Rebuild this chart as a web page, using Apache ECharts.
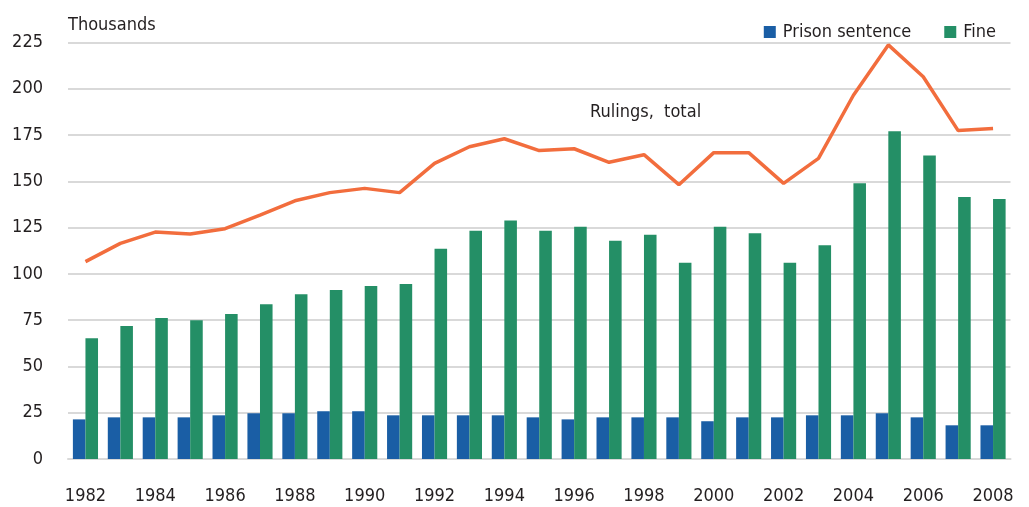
<!DOCTYPE html>
<html>
<head>
<meta charset="utf-8">
<script src="https://cdn.jsdelivr.net/npm/echarts@6/dist/echarts.min.js"></script>
<style>
html,body{margin:0;padding:0;background:#fff;}
#chart{width:1029px;height:507px;}
</style>
</head>
<body>
<div id="chart"></div>
<script>
const years = ['1982','1983','1984','1985','1986','1987','1988','1989','1990','1991','1992','1993','1994','1995','1996','1997','1998','1999','2000','2001','2002','2003','2004','2005','2006','2007','2008'];
const prison = [21.4,22.5,22.5,22.5,23.6,24.7,24.7,25.8,25.8,23.6,23.6,23.6,23.6,22.5,21.4,22.5,22.5,22.5,20.4,22.5,22.5,23.6,23.6,24.7,22.5,18.2,18.2];
const fine = [65.2,71.8,76.2,74.9,78.3,83.6,89,91.3,93.5,94.5,113.6,123.3,128.8,123.3,125.5,117.9,121.2,106,125.5,122,106,115.5,149,177,164,141.5,140.5];
const rulings = [106.6,116.5,122.6,121.5,124.4,131.8,139.5,143.9,146.2,143.9,159.7,168.7,173,166.6,167.6,160.3,164.4,148.2,165.5,165.5,148.9,162.4,196.5,223.7,206.5,177.4,178.5];
const yTicks = {min:0, max:225, interval:25};

const FONT = '"Liberation Sans Narrow", "DejaVu Sans Condensed", sans-serif';
const FS = 18;
const TXT = '#231f20';
const chart = echarts.init(document.getElementById('chart'));
chart.setOption({
  animation:false,
  backgroundColor:'#fff',
  textStyle:{fontFamily:FONT},
  grid:{left:68, right:18.5, top:42.5, bottom:48, containLabel:false},
  legend:{
    data:['Prison sentence','Fine'],
    right:28, top:18, icon:'rect', itemWidth:12, itemHeight:12, itemGap:33,
    textStyle:{fontFamily:FONT, fontSize:FS, color:TXT, padding:[0,0,0,2]}
  },
  graphic:[
    {type:'text', left:68, top:16, style:{text:'Thousands', font:FS+'px '+FONT, fill:TXT}},
    {type:'text', left:590, top:103, style:{text:'Rulings,  total', font:FS+'px '+FONT, fill:TXT}}
  ],
  xAxis:{
    type:'category', data:years,
    axisLine:{show:true, lineStyle:{color:'#d9d9d9', width:2}},
    axisTick:{show:false},
    axisLabel:{interval:1, margin:28, fontSize:FS, color:TXT, fontFamily:FONT}
  },
  yAxis:{
    type:'value', min:yTicks.min, max:yTicks.max, interval:yTicks.interval,
    axisLine:{show:false}, axisTick:{show:false},
    axisLabel:{margin:25, fontSize:FS, color:TXT, fontFamily:FONT},
    splitLine:{lineStyle:{color:'#d9d9d9', width:2}}
  },
  series:[
    {name:'Prison sentence', type:'bar', data:prison, barGap:'0%', barCategoryGap:'28%',
     itemStyle:{color:'#1a5ea5'}},
    {name:'Fine', type:'bar', data:fine, barGap:'0%', barCategoryGap:'28%',
     itemStyle:{color:'#248f66'}},
    {name:'Rulings, total', type:'line', data:rulings, symbol:'none', z:5,
     lineStyle:{color:'#f26d3d', width:3.5}}
  ]
});
</script>
</body>
</html>
